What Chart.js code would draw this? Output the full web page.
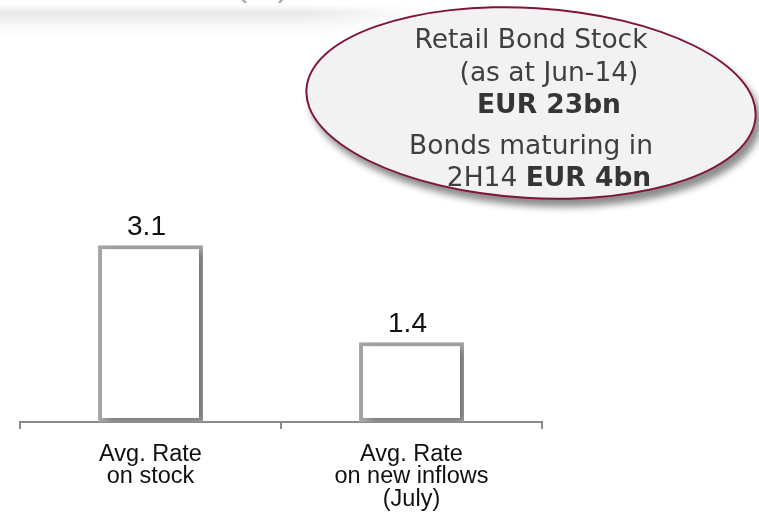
<!DOCTYPE html>
<html lang="en">

<head>
    <meta charset="UTF-8">
    <meta name="viewport" content="width=device-width, initial-scale=1.0">
    <script src="https://cdn.jsdelivr.net/npm/chart.js"></script>
    <title>Retail Bonds</title>
    <style>
        html, body { margin: 0; padding: 0; background: #fff; }
        .page { position: relative; width: 759px; height: 521px; overflow: hidden; }
        .faixa {
            position: absolute; left: 0; top: 4px; width: 430px; height: 32px;
            background: linear-gradient(to bottom, rgba(0,0,0,0) 0%, rgba(0,0,0,0.09) 28%, rgba(0,0,0,0.03) 65%, rgba(0,0,0,0) 100%);
            -webkit-mask-image: linear-gradient(to right, #000 70%, transparent 100%);
            mask-image: linear-gradient(to right, #000 70%, transparent 100%);
        }
        .unidade {
            position: absolute; left: 236px; top: -35px; line-height: 34px;
            font: 34px "Liberation Sans", Arial, sans-serif; color: #aaa;
        }
        #grafico { position: absolute; left: 0; top: 0; }
        .balao {
            position: absolute; left: 305px; top: 7px; width: 448px; height: 188px;
            border-radius: 50%; background: #f2f2f2; border: 2px solid #80143a;
            transform: rotate(3.5deg);
            box-shadow: 5px 7px 7px rgba(0,0,0,0.45);
        }
        .textoBalao {
            position: absolute; left: 305px; top: 23px; width: 452px;
            font: 26.5px "DejaVu Sans", Verdana, sans-serif; color: #3f3f3f;
            line-height: 32.5px; text-align: center; white-space: nowrap;
        }
        .textoBalao .rec { padding-left: 36px; }
        .textoBalao .novo { margin-top: 8px; }
        .textoBalao b { color: #353535; }
    </style>
</head>

<body>
    <div class="page">
        <div class="faixa"></div>
        <div class="unidade">(%)</div>
        <canvas id="grafico" width="759" height="521"></canvas>
        <div class="balao"></div>
        <div class="textoBalao">
            <div>Retail Bond Stock</div>
            <div class="rec">(as at Jun-14)</div>
            <div class="rec"><b>EUR 23bn</b></div>
            <div class="novo">Bonds maturing in</div>
            <div class="rec">2H14 <b>EUR 4bn</b></div>
        </div>
    </div>

    <script>
        // categorias e valores (%)
        const categorias = [
            ['Avg. Rate', 'on stock'],
            ['Avg. Rate', 'on new inflows', '(July)']
        ];
        const taxas = [3.1, 1.4];

        // escreve o valor acima de cada barra
        const rotulosValor = {
            id: 'rotulosValor',
            afterDatasetsDraw(chart) {
                const ctx = chart.ctx;
                const meta = chart.getDatasetMeta(0);
                ctx.save();
                ctx.font = '28px "Liberation Sans", Arial, sans-serif';
                ctx.fillStyle = '#111';
                ctx.textAlign = 'center';
                ctx.textBaseline = 'alphabetic';
                meta.data.forEach(function (barra, i) {
                    ctx.fillText(taxas[i].toFixed(1), barra.x - 4, barra.y - 10);
                });
                ctx.restore();
            }
        };

        // sombra cinza nas barras
        const sombraBarras = {
            id: 'sombraBarras',
            beforeDatasetsDraw(chart) {
                const ctx = chart.ctx;
                ctx.save();
                ctx.shadowColor = 'rgba(0,0,0,0.3)';
                ctx.shadowBlur = 8;
                ctx.shadowOffsetX = 5;
                ctx.shadowOffsetY = 3;
            },
            afterDatasetsDraw(chart) {
                chart.ctx.restore();
            }
        };

        const config = {
            type: 'bar',
            data: {
                labels: categorias,
                datasets: [{
                    data: taxas,
                    backgroundColor: '#ffffff',
                    borderColor: '#a6a6a6',
                    borderWidth: 4,
                    borderSkipped: false,
                    categoryPercentage: 1,
                    barPercentage: 0.402
                }]
            },
            options: {
                responsive: false,
                animation: false,
                layout: { padding: { left: 20, right: 217, top: 194, bottom: 0 } },
                plugins: {
                    legend: { display: false },
                    tooltip: { enabled: false }
                },
                scales: {
                    x: {
                        offset: true,
                        afterFit: function (escala) { escala.height = 99; },
                        border: { display: true, color: '#8c8c8c', width: 2 },
                        grid: {
                            offset: true,
                            drawOnChartArea: false,
                            drawTicks: true,
                            tickLength: 7,
                            color: '#8c8c8c',
                            lineWidth: 2
                        },
                        ticks: {
                            color: '#111',
                            padding: 14,
                            maxRotation: 0,
                            font: { family: '"Liberation Sans", Arial, sans-serif', size: 23.5, lineHeight: '22.5px' }
                        }
                    },
                    y: {
                        display: false,
                        min: 0,
                        max: 4
                    }
                }
            },
            plugins: [sombraBarras, rotulosValor]
        };

        new Chart(document.getElementById('grafico'), config);
    </script>
</body>

</html>
